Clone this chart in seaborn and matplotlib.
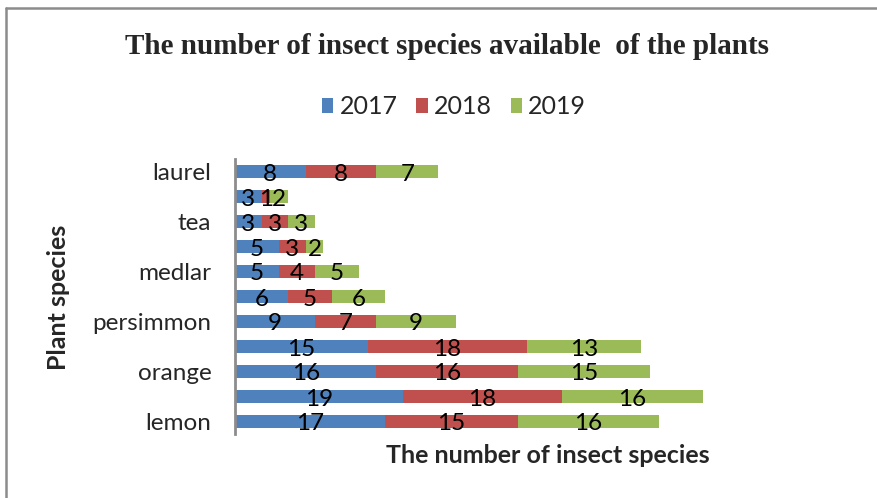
import numpy as np
import pandas as pd
import seaborn as sns
import matplotlib
matplotlib.use("Agg")
import matplotlib.pyplot as plt
from matplotlib.patches import Patch
from matplotlib.lines import Line2D

# Plant rows from bottom to top; only every other row carries a visible name
plant_labels = ["lemon", "", "orange", "", "persimmon", "", "medlar", "", "tea", "", "laurel"]
years = ["2017", "2018", "2019"]
species_2017 = [17, 19, 16, 15, 9, 6, 5, 5, 3, 3, 8]
species_2018 = [15, 18, 16, 18, 7, 5, 4, 3, 3, 1, 8]
species_2019 = [16, 16, 15, 13, 9, 6, 5, 2, 3, 2, 7]

colors = ["#4F81BD", "#C0504D", "#9BBB59"]

sns.set_theme(style="white")
plt.rcParams["font.family"] = ["Lato", "DejaVu Sans"]

df = pd.DataFrame({
    "pos": np.arange(len(plant_labels)),
    "y2017": species_2017,
    "y2018": species_2018,
    "y2019": species_2019,
})
df["c1"] = df["y2017"]
df["c2"] = df["c1"] + df["y2018"]
df["c3"] = df["c2"] + df["y2019"]

W, H = 877, 498
fig = plt.figure(figsize=(W / 100, H / 100), dpi=100)
fig.patch.set_facecolor("white")

x0, x1 = 235, 765
y_top, y_bot = 159, 434
ax = fig.add_axes([x0 / W, 1 - y_bot / H, (x1 - x0) / W, (y_bot - y_top) / H])

# Stacked bars: draw cumulative totals back to front
for col, c in zip(["c3", "c2", "c1"], colors[::-1]):
    sns.barplot(data=df, x=col, y="pos", orient="h", native_scale=True,
                color=c, width=0.52, saturation=1, ax=ax, linewidth=0)

# Value labels centred in each segment
for _, r in df.iterrows():
    lefts = [0, r["c1"], r["c2"]]
    vals = [r["y2017"], r["y2018"], r["y2019"]]
    for left, v in zip(lefts, vals):
        ax.text(left + v / 2, r["pos"] - 0.1, f"{int(v)}", ha="center", va="center",
                fontsize=17.5, color="black")

ax.set_xlim(0, 60)
ax.set_ylim(-0.5, 10.5)
ax.set_yticks(df["pos"])
ax.set_yticklabels(plant_labels, fontsize=17.5)
ax.tick_params(axis="x", length=0, labelbottom=False)
ax.tick_params(axis="y", length=0, pad=17)
for s in ["top", "right", "bottom"]:
    ax.spines[s].set_visible(False)
ax.spines["left"].set_color("#8C8C8C")
ax.spines["left"].set_linewidth(2)
ax.set_xlabel("")
ax.set_ylabel("")

fig.text(548 / W, 1 - 455 / H, "The number of insect species", ha="center", va="center",
         fontsize=18, fontweight="bold")
fig.text(59 / W, 1 - 297 / H, "Plant species", ha="center", va="center",
         rotation=90, fontsize=18, fontweight="bold")

fig.text(447 / W, 1 - 46 / H, "The number of insect species available  of the plants",
         ha="center", va="center", fontsize=21, fontweight="bold",
         family=["Liberation Serif", "DejaVu Serif"])

handles = [Patch(facecolor=c, edgecolor="none") for c in colors]
fig.legend(handles, years, loc="center", bbox_to_anchor=(454 / W, 1 - 107 / H), ncol=3,
           frameon=False, fontsize=18, handlelength=0.45, handleheight=0.5,
           handletextpad=0.25, columnspacing=0.75)

# Outer frame lines (top and left)
fig.add_artist(Line2D([6 / W, 1], [1 - 8 / H, 1 - 8 / H], transform=fig.transFigure,
                      color="#8C8C8C", linewidth=1.8))
fig.add_artist(Line2D([6 / W, 6 / W], [0, 1 - 8 / H], transform=fig.transFigure,
                      color="#8C8C8C", linewidth=1.8))

fig.savefig("out.png", dpi=100, facecolor="white")
